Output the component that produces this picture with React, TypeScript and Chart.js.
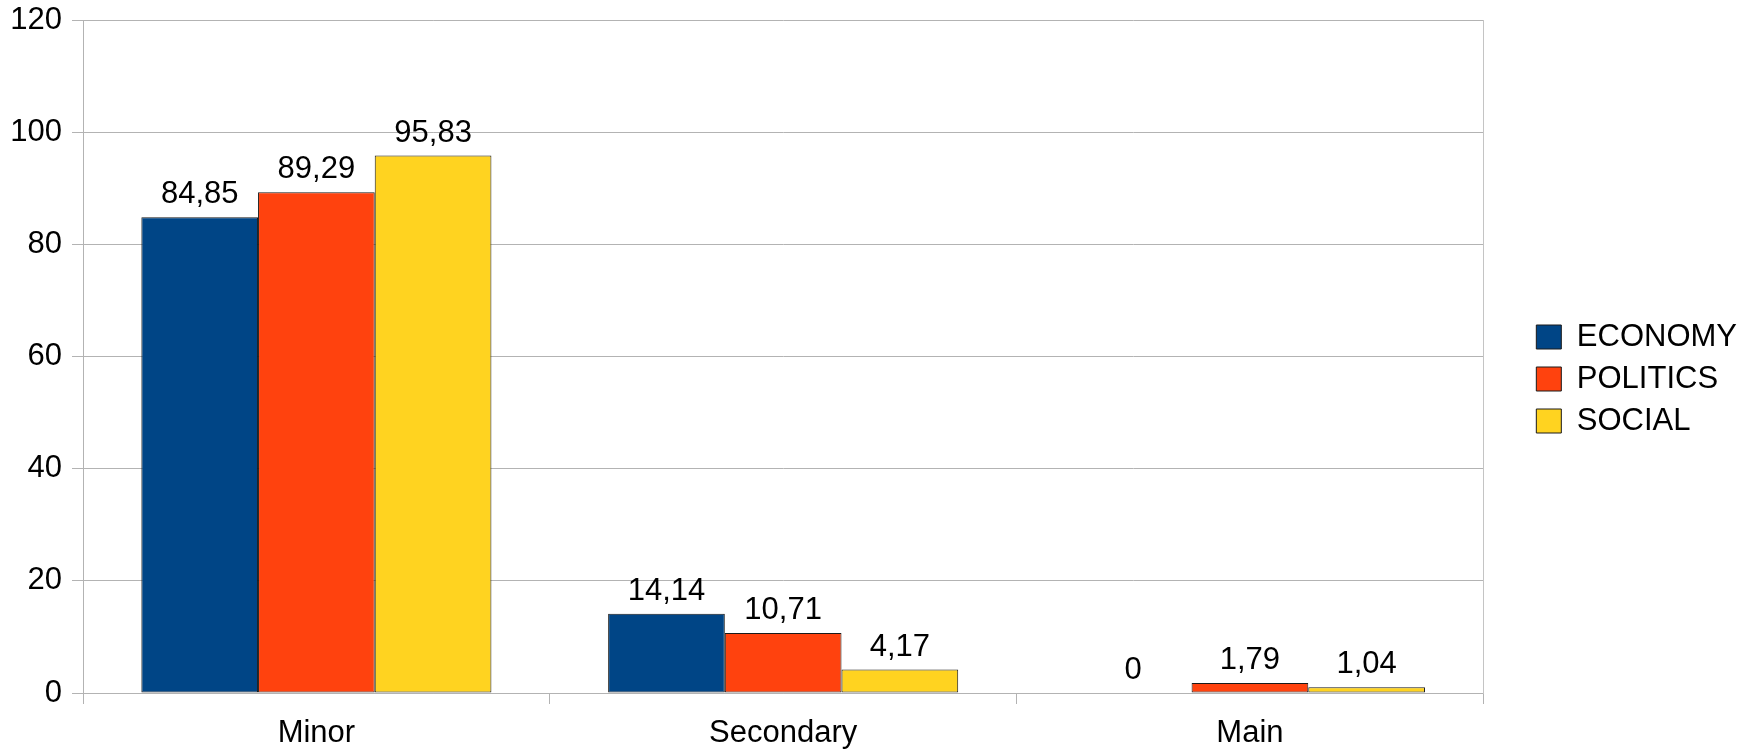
import { useEffect, useRef } from "react";
import { Chart, registerables } from "chart.js";

Chart.register(...registerables);

const categories = ["Minor", "Secondary", "Main"];
const seriesNames = ["ECONOMY", "POLITICS", "SOCIAL"];
const economy = [84.85, 14.14, 0];
const politics = [89.29, 10.71, 1.79];
const social = [95.83, 4.17, 1.04];
const seriesColors = ["#004586", "#ff420e", "#ffd320"];
const yTicksMax = 120;
const yTicksStep = 20;

const FONT = "'Liberation Sans', Arial, sans-serif";
const FS = 31;
const GRID = "#b3b3b3";

const fmt = (v: number) => (v === 0 ? "0" : v.toFixed(2).replace(".", ","));

const valueLabels = {
  id: "valueLabels",
  afterDatasetsDraw(chart: any) {
    const ctx = chart.ctx;
    ctx.save();
    ctx.font = `${FS}px ${FONT}`;
    ctx.fillStyle = "#000";
    ctx.textAlign = "center";
    ctx.textBaseline = "alphabetic";
    chart.data.datasets.forEach((ds: any, di: number) => {
      const meta = chart.getDatasetMeta(di);
      meta.data.forEach((el: any, i: number) => {
        ctx.fillText(fmt(ds.data[i]), el.x, el.y - 14);
      });
    });
    ctx.restore();
  },
};

export default function App() {
  const ref = useRef<HTMLCanvasElement | null>(null);
  useEffect(() => {
    if (!ref.current) return;
    const data = [economy, politics, social];
    const chart = new Chart(ref.current, {
      type: "bar",
      data: {
        labels: categories,
        datasets: seriesNames.map((name, i) => ({
          label: name,
          data: data[i],
          backgroundColor: seriesColors[i],
          borderColor: "#1a1a1a",
          borderWidth: 1,
          borderSkipped: false,
          categoryPercentage: 0.75,
          barPercentage: 1.0,
          yAxisID: "y",
        })),
      },
      options: {
        responsive: false,
        animation: false,
        layout: { padding: { top: 9, left: 0, right: 5, bottom: 0 } },
        plugins: {
          legend: {
            position: "right",
            labels: {
              boxWidth: 25,
              boxHeight: 24,
              padding: 11,
              color: "#000",
              font: { family: FONT, size: FS },
            },
          },
          tooltip: { enabled: false },
        },
        scales: {
          x: {
            offset: true,
            grid: {
              offset: true,
              drawOnChartArea: false,
              drawTicks: true,
              tickLength: 11,
              color: GRID,
            },
            border: { display: true, color: GRID },
            ticks: {
              color: "#000",
              padding: 11,
              font: { family: FONT, size: FS },
            },
            afterFit: (s: any) => {
              s.height = 56;
            },
          },
          y: {
            min: 0,
            max: yTicksMax,
            position: "left",
            grid: { color: GRID, tickLength: 11 },
            border: { display: true, color: GRID },
            ticks: {
              stepSize: yTicksStep,
              color: "#000",
              padding: 10,
              font: { family: FONT, size: FS },
            },
            afterFit: (s: any) => {
              s.width = 83;
              s.paddingTop = 20;
              s.paddingBottom = 0;
            },
          },
          spacer: {
            type: "linear",
            position: "right",
            display: true,
            grid: { display: false, drawTicks: false },
            ticks: { display: false },
            border: { display: true, color: "#c4c4c4" },
            afterFit: (s: any) => {
              s.width = 42;
            },
          },
        },
      },
      plugins: [valueLabels],
    } as any);
    return () => chart.destroy();
  }, []);
  return (
    <div style={{ position: "absolute", left: 0, top: 0, width: 1752, height: 749, background: "#fff" }}>
      <canvas ref={ref} width={1752} height={749} style={{ display: "block" }} />
    </div>
  );
}
